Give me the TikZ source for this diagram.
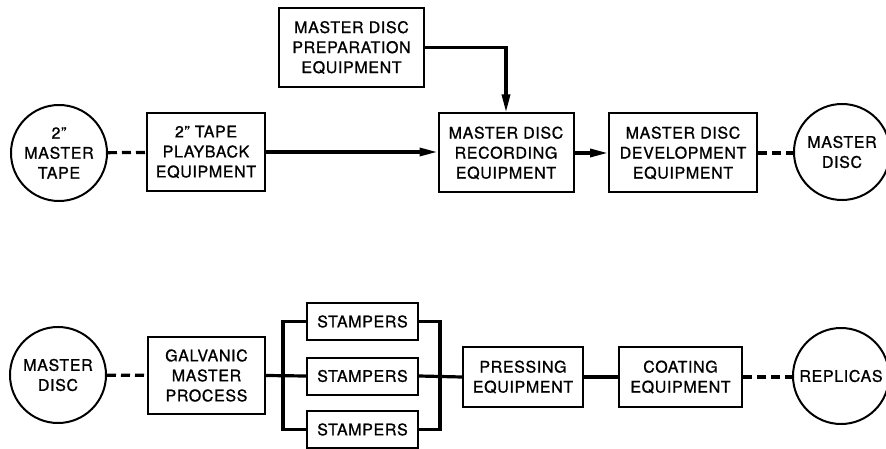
\documentclass[tikz,border=0pt]{standalone}
\usepackage{fontspec}
\setmainfont{TeX Gyre Heros}[LetterSpace=4,FakeBold=1]
\usetikzlibrary{arrows.meta}
\begin{document}
\begin{tikzpicture}[x=1pt,y=-1pt,
  box/.style={draw,line width=2pt,align=center,inner sep=0pt,font=\fontsize{16}{20}\selectfont},
  disc/.style={draw,circle,line width=2pt,align=center,inner sep=0pt,minimum size=96pt,font=\fontsize{16}{20}\selectfont},
  conn/.style={line width=3.2pt},
  dashconn/.style={line width=3.2pt,dash pattern=on 9pt off 5pt},
  arr/.style={conn,-{Triangle[length=18pt,width=8pt]}}
]
\useasboundingbox (0,0) rectangle (886,449);

% top row
\node[disc] (tape) at (59,153) {2\char"22\\MASTER\\TAPE};
\node[box,minimum width=118pt,minimum height=78pt] (play) at (206,152) {2\char"22{} TAPE\\PLAYBACK\\EQUIPMENT};
\node[box,minimum width=145pt,minimum height=79pt] (prep) at (351.5,47.5) {MASTER DISC\\PREPARATION\\EQUIPMENT};
\node[box,minimum width=135pt,minimum height=79pt] (rec) at (506,153) {MASTER DISC\\RECORDING\\EQUIPMENT};
\node[box,minimum width=148pt,minimum height=79pt] (dev) at (683,153) {MASTER DISC\\DEVELOPMENT\\EQUIPMENT};
\node[disc] (mdisc) at (842,152) {MASTER\\DISC};

\draw[dashconn] (tape) -- (play);
\draw[arr] (play.east) -- (play.east -| rec.west);
\draw[arr] (prep.east) -| (rec.north);
\draw[arr] (rec.east) -- (rec.east -| dev.west);
\draw[dashconn] (dev.east) -- (dev.east -| mdisc.west);

% bottom row
\node[disc] (mdiscb) at (58,375) {MASTER\\DISC};
\node[box,minimum width=117pt,minimum height=77pt] (galv) at (206.5,375.5) {GALVANIC\\MASTER\\PROCESS};
\node[box,minimum width=111pt,minimum height=37pt] (s1) at (362.5,321.5) {STAMPERS};
\node[box,minimum width=111pt,minimum height=37pt] (s2) at (362.5,376) {STAMPERS};
\node[box,minimum width=111pt,minimum height=37pt] (s3) at (362.5,429.5) {STAMPERS};
\node[box,minimum width=120pt,minimum height=60pt] (press) at (523,377) {PRESSING\\EQUIPMENT};
\node[box,minimum width=123pt,minimum height=60pt] (coat) at (680.5,377) {COATING\\EQUIPMENT};
\node[disc] (repl) at (841,376) {REPLICAS};

\coordinate (lb) at (283,376);
\coordinate (rb) at (440,376);

\draw[dashconn] (mdiscb) -- (galv);
\draw[conn] (galv.east) -- (s2.west);
\draw[conn] (s1.west) -| (lb) |- (s3.west);
\draw[conn] (s1.east) -| (rb) |- (s3.east);
\draw[conn] (s2.east) -- (press.west);
\draw[conn] (press) -- (coat);
\draw[dashconn] (coat.east) -- (coat.east -| repl.west);
\end{tikzpicture}
\end{document}
